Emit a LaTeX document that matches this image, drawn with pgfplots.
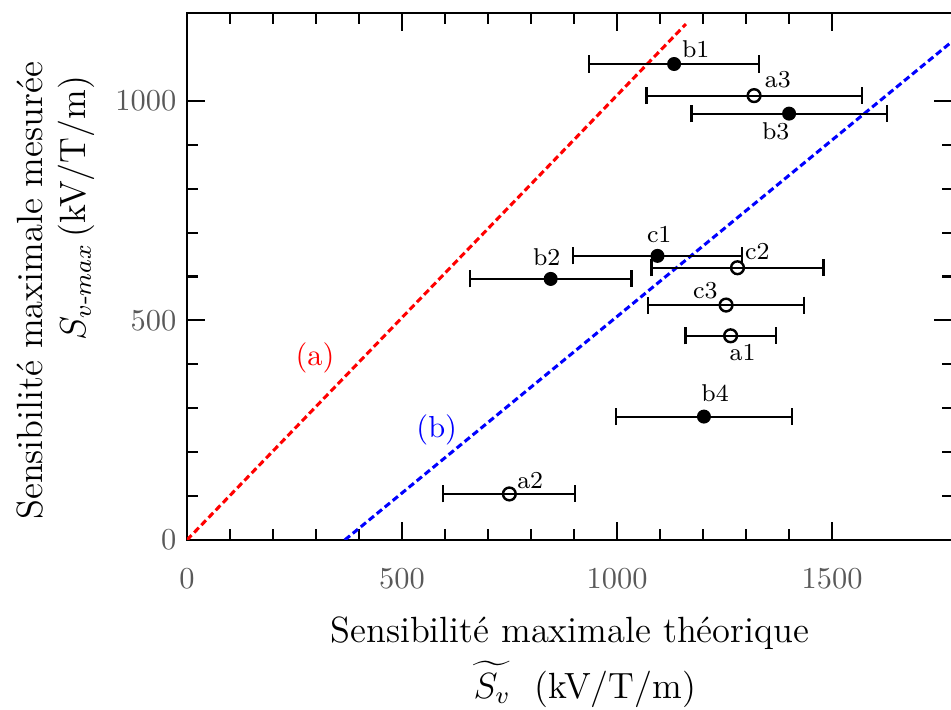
\documentclass[border=0pt]{standalone}
\usepackage{pgfplots}
\pgfplotsset{compat=1.18}
\usepackage{amsmath}
\pgfplotstableread{
x y ex
1132.6 1084 198
1400 971 227
1094 647 197
845.7 594.5 188
1202 281 205
}\filled
\pgfplotstableread{
x y ex
1318.6 1012 250
1280 620 200
1253.5 535 181
1264 465 105
749.6 104.8 153.5
}\open
\begin{document}
\begin{tikzpicture}
\begin{axis}[
  scale only axis, width=251.8pt, height=173.3pt,
  xmin=0, xmax=1780, ymin=0, ymax=1200,
  xtick={0,500,1000,1500}, ytick={0,500,1000},
  minor x tick num=4, minor y tick num=4,
  tick align=inside, xtick pos=both, ytick pos=both,
  major tick length=6pt, minor tick length=3.5pt,
  every tick/.style={black, line width=0.7pt},
  axis line style={line width=0.8pt},
  tick label style={black!65, font=\normalsize},
  /pgf/number format/1000 sep={},
  xticklabel style={yshift=-6pt},
  label style={font=\large},
  xlabel={Sensibilité maximale théorique\\[3pt]\hspace*{10pt}$\widetilde{S_v}$\ \ (kV/T/m)},
  xlabel style={align=center, yshift=-2.4pt},
  ylabel={Sensibilité maximale mesurée\\$S_{v\text{-}max}$\,(kV/T/m)\hspace*{4.6pt}},
  ylabel style={align=right, at={(ticklabel cs:0.473)}},
]
\addplot[red, line width=1pt, dash pattern=on 2.2pt off 1.2pt] coordinates {(0,0) (1160,1175)};
\addplot[blue, line width=1pt, dash pattern=on 2.2pt off 1.2pt] coordinates {(367,0) (1780,1136)};
\addplot[only marks, black, mark=*, mark size=2.1pt, mark options={fill=black},
  error bars/.cd, x dir=both, x explicit,
  error bar style={line width=0.7pt}, error mark options={rotate=90, line width=0.7pt, mark size=2.8pt}]
  table[x=x, y=y, x error=ex]{\filled};
\addplot[only marks, black, mark=o, mark size=2.1pt, mark options={fill=white, line width=0.8pt},
  error bars/.cd, x dir=both, x explicit,
  error bar style={line width=0.7pt}, error mark options={rotate=90, line width=0.7pt, mark size=2.8pt}]
  table[x=x, y=y, x error=ex]{\open};
\node[font=\footnotesize] at (axis cs:1183,1117) {b1};
\node[font=\footnotesize] at (axis cs:1374,1048) {a3};
\node[font=\footnotesize] at (axis cs:1369,930) {b3};
\node[font=\footnotesize] at (axis cs:1098,695) {c1};
\node[font=\footnotesize] at (axis cs:1326,657) {c2};
\node[font=\footnotesize] at (axis cs:836.5,644) {b2};
\node[font=\footnotesize] at (axis cs:1205,568) {c3};
\node[font=\footnotesize] at (axis cs:1292,427) {a1};
\node[font=\footnotesize] at (axis cs:1228,334) {b4};
\node[font=\footnotesize] at (axis cs:798,135) {a2};
\node[red] at (axis cs:297.7,414) {(a)};
\node[blue] at (axis cs:580.7,250.6) {(b)};
\end{axis}
\pgfresetboundingbox
\useasboundingbox (-61.5pt,-55.9pt) rectangle (251.3pt,177.6pt);
\end{tikzpicture}
\end{document}
